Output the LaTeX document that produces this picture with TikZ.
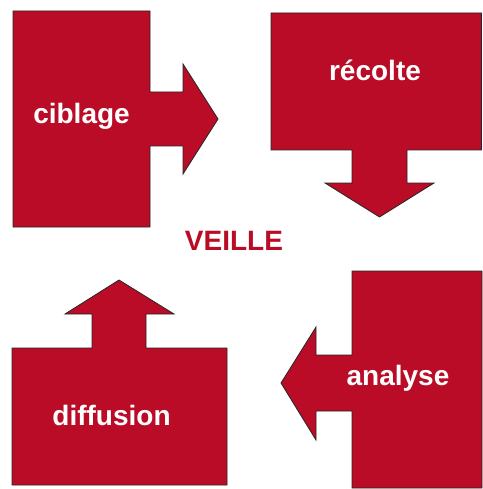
\documentclass[tikz,border=0pt]{standalone}
\usepackage{fontspec}
\setmainfont{Liberation Sans}
\definecolor{veillered}{RGB}{186,12,39}
\tikzset{
  blockshape/.style={fill=veillered, draw=black!85, line width=0.8pt, line join=miter},
  blocklabel/.style={text=white, font=\fontsize{28}{31}\selectfont\bfseries, inner sep=0pt, anchor=base},
  titlelabel/.style={text=veillered, font=\fontsize{28}{31}\selectfont\bfseries, inner sep=0pt, anchor=base}
}
\begin{document}
\begin{tikzpicture}[x=1pt,y=-1pt]
\useasboundingbox (0,0) rectangle (482,489);
% ciblage
\draw[blockshape] (13,11) -- (150,11) -- (150,92) -- (183,92) -- (183,64) -- (218,119) -- (183,174) -- (183,146) -- (150,146) -- (150,227) -- (13,227) -- cycle;
% recolte
\draw[blockshape] (271,13) -- (481.5,13) -- (481.5,150) -- (407,150) -- (407,183) -- (434,183) -- (379.5,217) -- (325,183) -- (352,183) -- (352,150) -- (271,150) -- cycle;
% diffusion
\draw[blockshape] (12,348) -- (92,348) -- (92,314) -- (65,314) -- (119,280) -- (174,314) -- (146,314) -- (146,348) -- (227,348) -- (227,485) -- (12,485) -- cycle;
% analyse
\draw[blockshape] (352,271) -- (482,271) -- (482,488) -- (352,488) -- (352,411) -- (316,411) -- (316,440) -- (281,383) -- (316,327) -- (316,355) -- (352,355) -- cycle;
\node[blocklabel] (ciblage) at (81.5,123.5) {ciblage};
\node[blocklabel] (recolte) at (375,81) {récolte};
\node[blocklabel] (diffusion) at (111.5,425) {diffusion};
\node[blocklabel] (analyse) at (398,385.5) {analyse};
\node[titlelabel] (veille) at (234,250.5) {VEILLE};
\end{tikzpicture}
\end{document}
